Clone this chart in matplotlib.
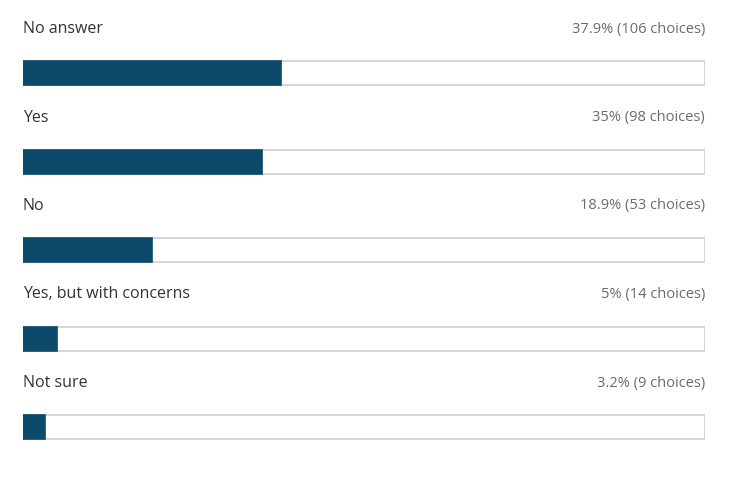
import matplotlib.pyplot as plt

categories = ["No answer", "Yes", "No", "Yes, but with concerns", "Not sure"]
percents = [37.9, 35, 18.9, 5, 3.2]
counts = [106, 98, 53, 14, 9]
pct_labels = ["37.9%", "35%", "18.9%", "5%", "3.2%"]

W, H = 747, 481
fig = plt.figure(figsize=(W/100, H/100), dpi=100)
x0, x1 = 23, 705
ax = fig.add_axes([x0/W, 0, (x1-x0)/W, 1])
pitch = 88.5
first = 74
ax.set_ylim((H-first)/pitch, -first/pitch)
ax.set_xlim(0, 100)
ax.axis("off")

bh = 24/pitch
ys = list(range(len(categories)))
ax.barh(ys, [100]*len(ys), height=bh, color="white", edgecolor="#d0d0d0", linewidth=1.2, zorder=1)
ax.barh(ys, percents, height=bh, color="#0b4a6b", edgecolor="#0b4a6b", linewidth=1.2, zorder=2)
for i, (c, p, n) in enumerate(zip(categories, pct_labels, counts)):
    y = i - 45/pitch
    ax.text(0, y, c, ha="left", va="center", fontsize=11.5, color="#333333", family="Open Sans")
    ax.text(100, y, f"{p} ({n} choices)", ha="right", va="center", fontsize=10.5, color="#6b6b6b", family="Open Sans")

fig.savefig("out.png", dpi=100, facecolor="white")
